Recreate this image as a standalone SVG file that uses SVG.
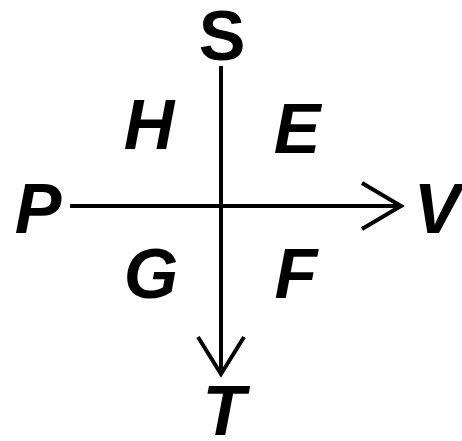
<svg xmlns="http://www.w3.org/2000/svg" width="462" height="441" viewBox="0 0 462 441">
<style>
.lbl{font-family:"Liberation Sans",Arial,sans-serif;font-weight:bold;font-size:70px;text-anchor:middle;fill:#000}
.it{font-style:italic}
.ln{stroke:#000;stroke-width:4;fill:none}
</style>
<rect width="462" height="441" fill="#fff"/>
<g id="connectors">
<line class="ln" x1="221" y1="66" x2="221" y2="373"/>
<polyline class="ln" points="198,337 221,374 244,337"/>
<line class="ln" x1="70" y1="206" x2="400" y2="206"/>
<polyline class="ln" points="362,183 401,206 362,229"/>
</g>
<g id="S"><text class="lbl" x="222" y="60">S</text></g>
<g id="T"><text class="lbl it" x="224" y="435">T</text></g>
<g id="P"><text class="lbl it" x="38" y="233">P</text></g>
<g id="V"><text class="lbl it" x="437" y="233">V</text></g>
<g id="H"><text class="lbl it" x="149" y="149">H</text></g>
<g id="E"><text class="lbl it" x="297" y="153">E</text></g>
<g id="G"><text class="lbl it" x="151" y="298">G</text></g>
<g id="F"><text class="lbl it" x="296" y="298">F</text></g>
</svg>
